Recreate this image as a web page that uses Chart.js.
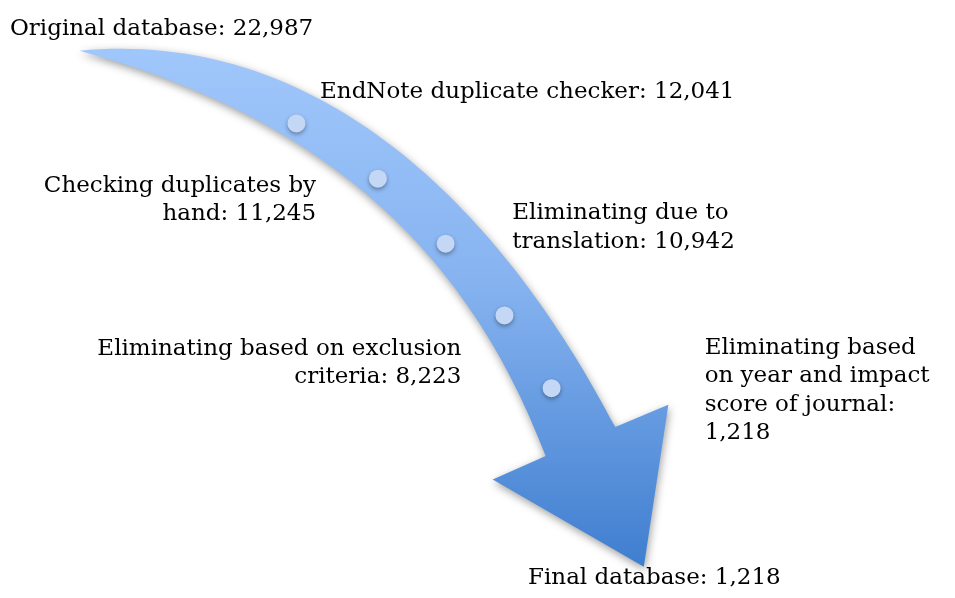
<!DOCTYPE html>
<html>
<head>
<meta charset="utf-8">
<script src="https://cdn.jsdelivr.net/npm/chart.js@4.4.1/dist/chart.umd.min.js"></script>
<style>
  html, body { margin: 0; padding: 0; background: #fff; }
  #wrap { width: 955px; height: 598px; }
</style>
</head>
<body>
<div id="wrap"><canvas id="flow" width="955" height="598"></canvas></div>
<script>
// screening stages, in order
const stages = [
    'Original database',
    'EndNote duplicate checker',
    'Checking duplicates by hand',
    'Eliminating due to translation',
    'Eliminating based on exclusion criteria',
    'Eliminating based on year and impact score of journal',
    'Final database'
];
const counts = [22987, 12041, 11245, 10942, 8223, 1218, 1218];

// layout, in page pixels (x right, y down)
const labelX = [1, 317, 313, 513, 461, 709, 529];
const labelY = [27, 92, 189, 217, 357, 356, 593];
const labelAlign = ['left', 'left', 'right', 'left', 'right', 'left', 'left'];
const labelBreaks = [[], [], [3, 2], [3, 2], [4, 2], [2, 4, 3, 1], []];
const lineHeight = 29;

// step markers along the arrow
const markerX = [293, 376, 445, 505, 553];
const markerY = [118, 175, 242, 316, 391];

// arrow outline: outer edge and inner edge as cubic curves (start, c1, c2, end), plus the head
const upperCurve = [[72, 43], [330, 18], [512, 225], [618, 431]];
const arrowHead = [[672, 408], [647, 575], [493, 485], [547, 461]];
const lowerCurve = [[547, 461], [461, 230], [299, 106], [72, 43]];

const FONT = '"DejaVu Serif", serif';
const FONT_SIZE = 23;
const fmt = n => n.toLocaleString('en-US');

const arrowPlugin = {
    id: 'arrow',
    beforeDatasetsDraw(chart) {
        const { ctx, scales: { x, y } } = chart;
        const toPx = p => [x.getPixelForValue(p[0]), y.getPixelForValue(p[1])];
        const up = upperCurve.map(toPx);
        const head = arrowHead.map(toPx);
        const lo = lowerCurve.map(toPx);

        ctx.save();
        ctx.beginPath();
        ctx.moveTo(up[0][0], up[0][1]);
        ctx.bezierCurveTo(up[1][0], up[1][1], up[2][0], up[2][1], up[3][0], up[3][1]);
        head.forEach(p => ctx.lineTo(p[0], p[1]));
        ctx.lineTo(lo[0][0], lo[0][1]);
        ctx.bezierCurveTo(lo[1][0], lo[1][1], lo[2][0], lo[2][1], lo[3][0], lo[3][1]);
        ctx.closePath();

        const top = y.getPixelForValue(43), bottom = y.getPixelForValue(575);
        const grad = ctx.createLinearGradient(0, top, 0, bottom);
        grad.addColorStop(0, '#a0c7fb');
        grad.addColorStop(0.45, '#86b3f0');
        grad.addColorStop(1, '#3f7ecf');
        ctx.fillStyle = grad;
        ctx.shadowColor = 'rgba(0, 0, 0, 0.38)';
        ctx.shadowBlur = 8;
        ctx.shadowOffsetX = 1;
        ctx.shadowOffsetY = 3;
        ctx.fill();
        ctx.restore();
    },
    beforeDatasetDraw(chart) {
        const ctx = chart.ctx;
        ctx.save();
        ctx.shadowColor = 'rgba(0, 0, 0, 0.35)';
        ctx.shadowBlur = 4;
        ctx.shadowOffsetY = 2;
    },
    afterDatasetDraw(chart) {
        chart.ctx.restore();
    },
    afterDatasetsDraw(chart) {
        const { ctx, scales: { x, y } } = chart;
        ctx.save();
        ctx.font = FONT_SIZE + 'px ' + FONT;
        ctx.fillStyle = '#000';
        ctx.textBaseline = 'alphabetic';
        stages.forEach((stage, i) => {
            const words = (stage + ': ' + fmt(counts[i])).split(' ');
            const breaks = labelBreaks[i].length ? labelBreaks[i] : [words.length];
            let k = 0;
            ctx.textAlign = labelAlign[i];
            breaks.forEach((n, line) => {
                const text = words.slice(k, k + n).join(' ');
                k += n;
                ctx.fillText(text, x.getPixelForValue(labelX[i]), y.getPixelForValue(labelY[i] + line * lineHeight));
            });
        });
        ctx.restore();
    }
};

new Chart(document.getElementById('flow'), {
    type: 'scatter',
    data: {
        datasets: [{
            label: 'steps',
            data: markerX.map((v, i) => ({ x: v, y: markerY[i] })),
            pointRadius: 9,
            pointHoverRadius: 9,
            pointBackgroundColor: '#c4d8f6',
            pointBorderWidth: 0,
            pointBorderColor: 'rgba(0,0,0,0)'
        }]
    },
    options: {
        responsive: false,
        animation: false,
        layout: { padding: 0 },
        scales: {
            x: { type: 'linear', min: 0, max: 955, display: false },
            y: { type: 'linear', min: 0, max: 598, reverse: true, display: false }
        },
        plugins: {
            legend: { display: false },
            tooltip: { enabled: false }
        }
    },
    plugins: [arrowPlugin]
});
</script>
</body>
</html>
